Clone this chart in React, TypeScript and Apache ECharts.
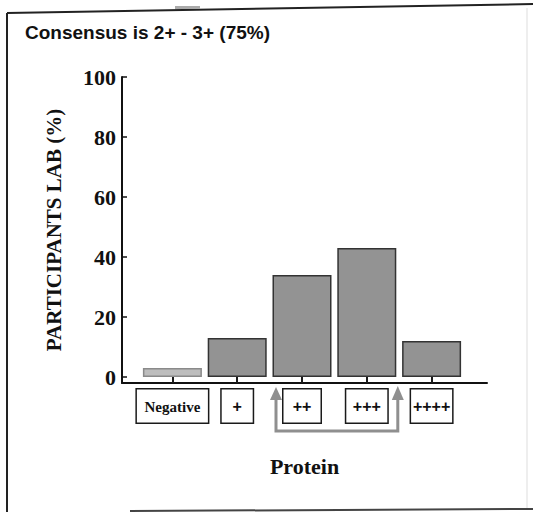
import React, { useEffect, useRef } from "react";
import * as echarts from "echarts";

// ---- data ----
const categories = ["Negative", "+", "++", "+++", "++++"];
const participants = [3, 13, 34, 43, 12];
const yTicks = [0, 20, 40, 60, 80, 100];
const titleText = "Consensus is 2+ - 3+ (75%)";
const yAxisName = "PARTICIPANTS LAB (%)";
const xAxisName = "Protein";
const bracketCategories = ["++", "+++"];

// ---- layout ----
const W = 533;
const H = 512;
const AXIS_LEFT = 122;
const AXIS_RIGHT = 487;
const TOP = 77;
const AXIS_BOTTOM = 383;
const BAR_LEFT = 140;
const BAR_RIGHT = 464;
const SERIF = "'Liberation Serif', 'DejaVu Serif', serif";
const SANS = "'Liberation Sans', Arial, sans-serif";
const boxWidths = [69, 29, 35, 39, 39];
const boxFontSizes = [15, 16, 16, 16, 16];
const boxFonts = [SERIF, SANS, SANS, SANS, SANS];

export default function App() {
  const ref = useRef<HTMLDivElement>(null);

  useEffect(() => {
    if (!ref.current) return;
    const chart = echarts.init(ref.current, undefined, { renderer: "svg", width: W, height: H });

    const rich: Record<string, any> = {};
    boxWidths.forEach((w, i) => {
      rich["b" + i] = {
        width: w,
        height: 16,
        align: "center",
        verticalAlign: "middle",
        padding: [9, 1, 8, 1],
        borderColor: "#1a1a1a",
        borderWidth: 1.5,
        backgroundColor: "#fff",
        fontFamily: boxFonts[i],
        fontWeight: "bold",
        fontSize: boxFontSizes[i],
        lineHeight: 16,
        color: "#111",
      };
    });

    const option: any = {
      animation: false,
      backgroundColor: "#fff",
      title: {
        text: titleText,
        left: 25,
        top: 23,
        padding: 0,
        textStyle: { fontFamily: SANS, fontWeight: "bold", fontSize: 19, color: "#111" },
      },
      grid: [
        { left: AXIS_LEFT, width: AXIS_RIGHT - AXIS_LEFT, top: TOP, height: AXIS_BOTTOM - TOP },
        { left: BAR_LEFT, width: BAR_RIGHT - BAR_LEFT, top: TOP, height: AXIS_BOTTOM - TOP },
      ],
      xAxis: [
        {
          gridIndex: 0,
          type: "value",
          min: 0,
          max: 1,
          axisLine: { show: true, onZero: false, lineStyle: { color: "#111", width: 2 } },
          axisTick: { show: false },
          axisLabel: { show: false },
          splitLine: { show: false },
          name: xAxisName,
          nameLocation: "middle",
          nameGap: 72,
          nameTextStyle: {
            fontFamily: SERIF,
            fontWeight: "bold",
            fontSize: 22,
            color: "#111",
            verticalAlign: "top",
          },
        },
        {
          gridIndex: 1,
          type: "category",
          data: categories,
          axisLine: { show: false, onZero: false },
          axisTick: {
            show: true,
            alignWithLabel: true,
            inside: true,
            interval: 0,
            length: 8,
            lineStyle: { color: "#1a1a1a", width: 2 },
          },
          axisLabel: {
            interval: 0,
            hideOverlap: false,
            margin: 15,
            formatter: (v: string) => {
              const i = categories.indexOf(v);
              return "{b" + i + "|" + v + "}";
            },
            rich,
          },
          splitLine: { show: false },
        },
      ],
      yAxis: [
        {
          gridIndex: 0,
          type: "value",
          min: -2,
          max: 100,
          axisLine: { show: true, lineStyle: { color: "#111", width: 2 } },
          axisTick: {
            show: true,
            inside: true,
            length: 5,
            customValues: yTicks,
            lineStyle: { color: "#111", width: 1.5 },
          },
          axisLabel: {
            customValues: yTicks,
            margin: 6,
            fontFamily: SERIF,
            fontWeight: "bold",
            fontSize: 22,
            color: "#111",
          },
          splitLine: { show: false },
          name: yAxisName,
          nameLocation: "middle",
          nameGap: 58,
          nameTextStyle: { fontFamily: SERIF, fontWeight: "bold", fontSize: 21, color: "#111" },
        },
        { gridIndex: 1, type: "value", min: -2, max: 100, show: false },
      ],
      series: [
        {
          type: "bar",
          xAxisIndex: 1,
          yAxisIndex: 1,
          barWidth: 59,
          data: participants.map((v, i) => ({
            value: v,
            itemStyle:
              i === 0
                ? { color: "#bdbdbd", borderColor: "#8a8a8a", borderWidth: 1.5 }
                : { color: "#939393", borderColor: "#333", borderWidth: 1.5 },
          })),
        },
      ],
    };

    chart.setOption(option);

    // bracket arrow under the consensus categories
    const xl = chart.convertToPixel({ xAxisIndex: 1 }, bracketCategories[0]) as number;
    const xr = chart.convertToPixel({ xAxisIndex: 1 }, bracketCategories[1]) as number;
    const lx = xl - 26;
    const rx = xr + 31;
    const topY = 398;
    const botY = 431;
    const gray = "#8f8f8f";

    chart.setOption({
      graphic: [
        // frame
        { type: "line", shape: { x1: 7, y1: 13, x2: 533, y2: 4 }, style: { stroke: "#222", lineWidth: 2 }, silent: true },
        { type: "line", shape: { x1: 7, y1: 13, x2: 7, y2: 512 }, style: { stroke: "#222", lineWidth: 2 }, silent: true },
        { type: "line", shape: { x1: 527, y1: 8, x2: 527, y2: 508 }, style: { stroke: "#ddd", lineWidth: 1 }, silent: true },
        { type: "line", shape: { x1: 130, y1: 511, x2: 533, y2: 509 }, style: { stroke: "#444", lineWidth: 2 }, silent: true },
        { type: "rect", shape: { x: 175, y: 6, width: 25, height: 3 }, style: { fill: "#aaa" }, silent: true },
        // bracket
        {
          type: "polyline",
          shape: { points: [[lx, topY], [lx, botY], [rx, botY], [rx, topY]] },
          style: { stroke: gray, lineWidth: 3, fill: null },
          silent: true,
        },
        {
          type: "polygon",
          shape: { points: [[lx - 6, topY + 2], [lx, 387], [lx + 6, topY + 2]] },
          style: { fill: gray },
          silent: true,
        },
        {
          type: "polygon",
          shape: { points: [[rx - 6, topY + 2], [rx, 386], [rx + 6, topY + 2]] },
          style: { fill: gray },
          silent: true,
        },
      ],
    });

    return () => chart.dispose();
  }, []);

  return (
    <div
      ref={ref}
      style={{ position: "fixed", left: 0, top: 0, width: W, height: H, background: "#fff" }}
    />
  );
}
